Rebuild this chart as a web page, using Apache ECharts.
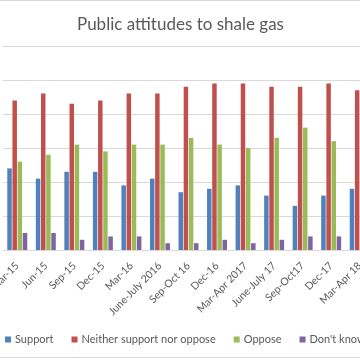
<!DOCTYPE html>
<html>
<head>
<meta charset="utf-8">
<script src="https://cdn.jsdelivr.net/npm/echarts@6/dist/echarts.min.js"></script>
<style>
html,body{margin:0;padding:0;width:360px;height:360px;overflow:hidden;background:#fff;}
#frame{position:absolute;left:0;top:0;width:360px;height:358px;border-top:1px solid #d9d9d9;border-bottom:1px solid #d9d9d9;box-sizing:border-box;overflow:hidden;}
#chart{position:absolute;left:-20px;top:-1px;width:440px;height:360px;}
</style>
</head>
<body>
<div id="frame"><div id="chart"></div></div>
<script>
const categories = ["Mar-15","Jun-15","Sep-15","Dec-15","Mar-16","June-July 2016","Sep-Oct 16","Dec-16","Mar-Apr 2017","June-July 17","Sep-Oct17","Dec-17","Mar-Apr 18"];
const support    = [24, 21, 23, 23, 19, 21, 17, 18, 19, 16, 13, 16, 18];
const neither    = [44, 46, 43, 44, 46, 46, 48, 49, 49, 48, 48, 49, 47];
const oppose     = [26, 28, 31, 29, 31, 31, 33, 31, 30, 33, 36, 32, 32];
const dontKnow   = [5, 5, 3, 4, 4, 2, 2, 3, 2, 3, 4, 4, 3];
const yTicks = [0, 10, 20, 30, 40, 50, 60];

const names = ["Support", "Neither support nor oppose", "Oppose", "Don't know"];
const colors = ["#4F81BD", "#C0504D", "#9BBB59", "#8064A2"];
const seriesData = [support, neither, oppose, dontKnow];
const font = "Lato, 'Open Sans', sans-serif";

const chart = echarts.init(document.getElementById('chart'), null, {renderer: 'canvas'});
chart.setOption({
  animation: false,
  color: colors,
  title: {
    text: 'Public attitudes to shale gas',
    left: 92, top: 11,
    textStyle: {fontFamily: font, fontSize: 17, fontWeight: 'normal', color: '#595959'}
  },
  legend: {
    data: names,
    left: 20, bottom: 10, padding: [5, 5, 5, 5],
    orient: 'horizontal',
    itemWidth: 6, itemHeight: 6, itemGap: 18,
    icon: 'rect',
    textStyle: {fontFamily: font, fontSize: 11, color: '#595959', padding: [0, 0, 0, -1]}
  },
  grid: {left: 23, right: 46, top: 46, bottom: 110, containLabel: false},
  xAxis: {
    type: 'category',
    data: categories,
    axisLine: {lineStyle: {color: '#d9d9d9'}},
    axisTick: {show: false},
    axisLabel: {rotate: 45, interval: 0, fontFamily: font, fontSize: 10.5, color: '#595959', margin: 14}
  },
  yAxis: {
    type: 'value',
    min: yTicks[0], max: yTicks[yTicks.length - 1], interval: 10,
    axisLabel: {show: false},
    axisLine: {show: false},
    axisTick: {show: false},
    splitLine: {lineStyle: {color: '#d9d9d9'}}
  },
  series: seriesData.map((d, i) => ({
    name: names[i],
    type: 'bar',
    data: d,
    barGap: '15%',
    barCategoryGap: '30%',
    itemStyle: {color: colors[i]}
  }))
});
</script>
</body>
</html>
